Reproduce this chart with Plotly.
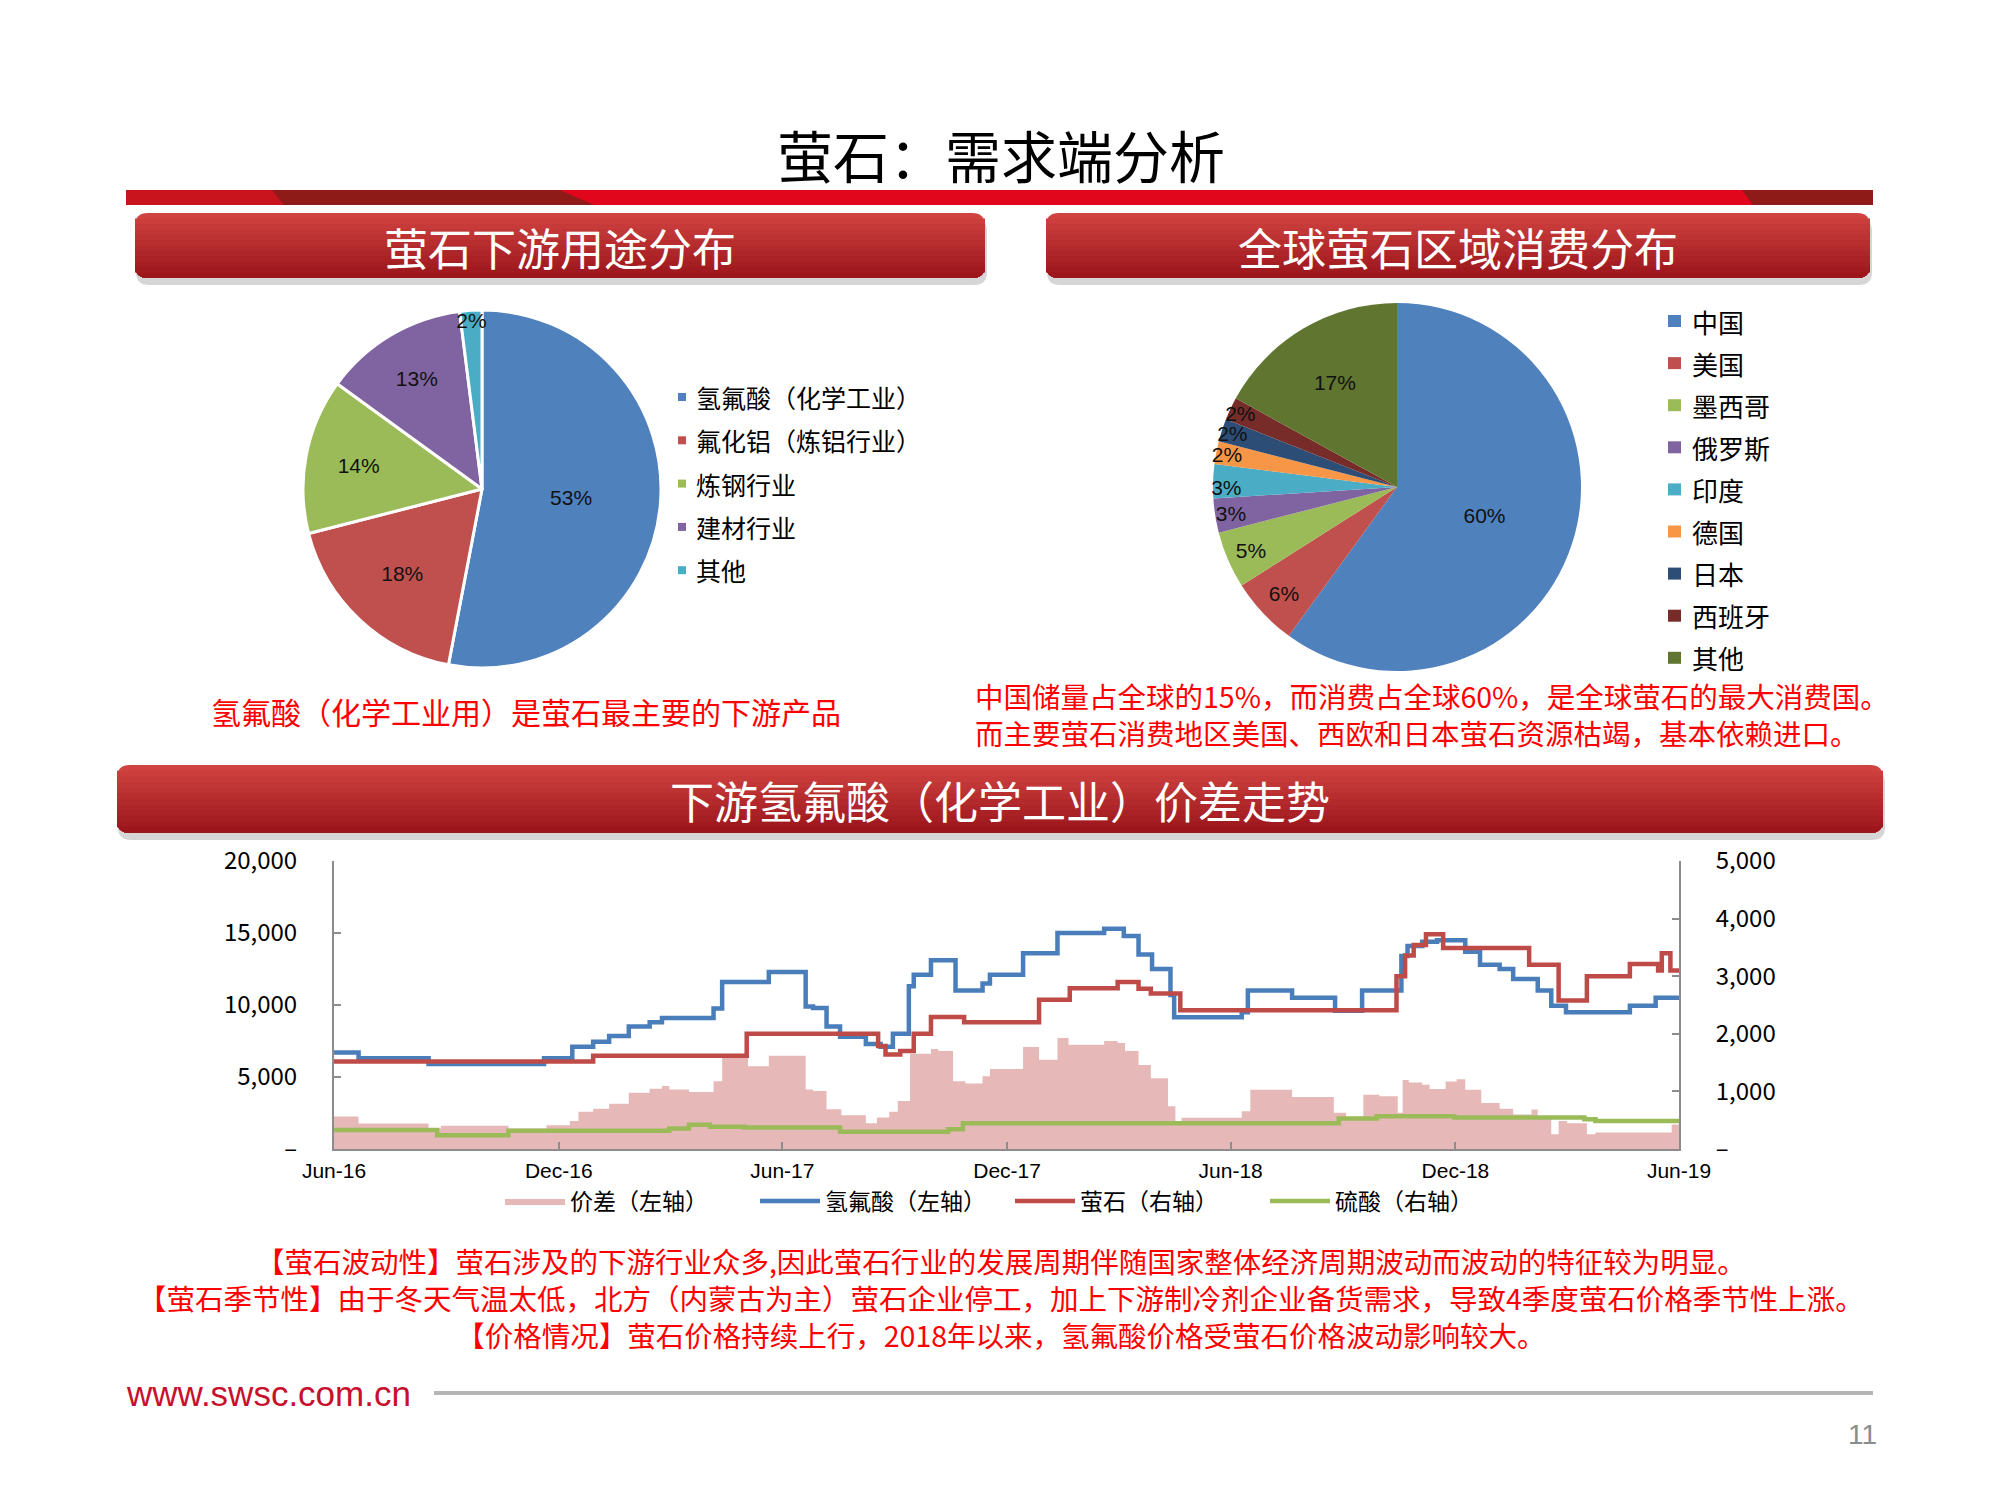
import plotly.graph_objects as go

W, H = 2000, 1500
OFF = 8  # page body margin compensation
CJK = "Noto Sans CJK SC"

# ---------------- data ----------------
use_labels = ["氢氟酸（化学工业）", "氟化铝（炼铝行业）", "炼钢行业", "建材行业", "其他"]
use_values = [53, 18, 14, 13, 2]
use_colors = ["#4F81BD", "#C0504D", "#9BBB59", "#8064A2", "#4BACC6"]

region_labels = ["中国", "美国", "墨西哥", "俄罗斯", "印度", "德国", "日本", "西班牙", "其他"]
region_values = [60, 6, 5, 3, 3, 2, 2, 2, 17]
region_colors = ["#4F81BD", "#C0504D", "#9BBB59", "#8064A2", "#4BACC6",
                 "#F79646", "#2C4D75", "#772C2A", "#5F7530"]

spread_dates = ["2016-06-01", "2016-06-21", "2016-08-17", "2016-08-27", "2016-10-21", "2016-11-21",
                "2016-12-10", "2016-12-17", "2016-12-29", "2017-01-11", "2017-01-27", "2017-02-13",
                "2017-02-23", "2017-03-01", "2017-03-17", "2017-04-06", "2017-04-13", "2017-05-04",
                "2017-05-21", "2017-06-20", "2017-06-26", "2017-07-07", "2017-07-19", "2017-08-08",
                "2017-08-17", "2017-08-27", "2017-09-03", "2017-09-13", "2017-09-30", "2017-10-06",
                "2017-10-18", "2017-10-28", "2017-11-11", "2017-11-17", "2017-12-14", "2017-12-27",
                "2018-01-11", "2018-01-20", "2018-02-18", "2018-03-01", "2018-03-07", "2018-03-18",
                "2018-03-28", "2018-04-11", "2018-04-17", "2018-04-22", "2018-06-10", "2018-06-17",
                "2018-07-21", "2018-08-24", "2018-09-03", "2018-09-17", "2018-09-30", "2018-10-15",
                "2018-10-19", "2018-10-24", "2018-11-04", "2018-11-10", "2018-11-23", "2018-12-02",
                "2018-12-09", "2018-12-22", "2019-01-06", "2019-01-17", "2019-02-01", "2019-02-06",
                "2019-02-17", "2019-02-23", "2019-03-02", "2019-03-18", "2019-03-25", "2019-05-26",
                "2019-06-01"]
spread_values = [2250, 1770, 1430, 1610, 1430, 1650,
                 1950, 2580, 2800, 3150, 3900, 4180,
                 4370, 4140, 3950, 4710, 6320, 5750,
                 6480, 4140, 4020, 2760, 2340, 1790,
                 2180, 2580, 3330, 6620, 6940, 6800,
                 4710, 4550, 5060, 5560, 7080, 6200,
                 7700, 7240, 7500, 7360, 6810, 5830,
                 4910, 2970, 1940, 2170, 2630, 4110,
                 3610, 2510, 2240, 3770, 3660, 2510,
                 4800, 4620, 4460, 4160, 4690, 4850,
                 4110, 3200, 2790, 2400, 2740, 2240,
                 1030, 1940, 1780, 1030, 1140, 1710,
                 1710]

hf_dates = ["2016-06-01", "2016-06-21", "2016-08-17", "2016-11-19", "2016-12-12", "2016-12-29",
            "2017-01-11", "2017-01-27", "2017-02-13", "2017-02-23", "2017-04-06", "2017-04-13",
            "2017-05-21", "2017-06-20", "2017-06-26", "2017-07-07", "2017-07-18", "2017-08-08",
            "2017-08-20", "2017-08-30", "2017-09-12", "2017-09-16", "2017-09-30", "2017-10-20",
            "2017-11-11", "2017-11-17", "2017-12-14", "2018-01-11", "2018-02-18", "2018-03-06",
            "2018-03-18", "2018-03-29", "2018-04-13", "2018-04-16", "2018-06-10", "2018-06-15",
            "2018-07-21", "2018-08-25", "2018-09-16", "2018-10-18", "2018-10-23", "2018-11-04",
            "2018-11-16", "2018-12-09", "2018-12-21", "2019-01-06", "2019-01-17", "2019-02-06",
            "2019-02-17", "2019-03-01", "2019-04-22", "2019-05-13", "2019-06-01"]
hf_values = [6700, 6300, 5900, 6300, 7100, 7450,
             7850, 8500, 8800, 9100, 9750, 11600,
             12300, 9900, 9800, 8500, 7800, 7300,
             7100, 8000, 11300, 12100, 13100, 11000,
             11500, 12100, 13600, 15000, 15300, 14800,
             13500, 12500, 10700, 9150, 9500, 11000,
             10500, 9600, 11000, 13400, 14100, 14400,
             14500, 13700, 12800, 12500, 11800, 11000,
             9950, 9500, 9950, 10500, 10500]

fluor_dates = ["2016-06-01", "2016-12-29", "2017-05-03", "2017-08-18", "2017-08-24", "2017-09-05",
               "2017-09-16", "2017-09-30", "2017-10-27", "2017-12-27", "2018-01-21", "2018-03-01",
               "2018-03-18", "2018-03-28", "2018-04-21", "2018-10-14", "2018-10-21", "2018-10-28",
               "2018-11-07", "2018-11-21", "2019-01-30", "2019-02-23", "2019-03-18", "2019-04-22",
               "2019-05-15", "2019-05-18", "2019-05-25", "2019-06-01"]
fluor_values = [1520, 1620, 2000, 1790, 1640, 1700,
                2000, 2290, 2200, 2590, 2790, 2900,
                2780, 2700, 2410, 3000, 3360, 3540,
                3730, 3490, 3200, 2580, 3000, 3210,
                3100, 3400, 3100, 3100]

sulf_dates = ["2016-06-01", "2016-08-24", "2016-10-21", "2017-03-01", "2017-03-17", "2017-04-03",
              "2017-05-01", "2017-07-18", "2017-10-14", "2017-10-26", "2018-08-28", "2018-09-28",
              "2018-11-30", "2019-03-16", "2019-03-25", "2019-06-01"]
sulf_values = [330, 240, 315, 355, 420, 385,
               375, 300, 345, 445, 530, 570,
               545, 515, 485, 485]

x_tick_dates = ["2016-06-01", "2016-12-01", "2017-06-01", "2017-12-01",
                "2018-06-01", "2018-12-01", "2019-06-01"]
left_ticks = [0, 5000, 10000, 15000, 20000]
left_ticktext = ["–", "5,000", "10,000", "15,000", "20,000"]
right_ticks = [0, 1000, 2000, 3000, 4000, 5000]
right_ticktext = ["–", "1,000", "2,000", "3,000", "4,000", "5,000"]

right_note_lines = ["中国储量占全球的15%，而消费占全球60%，是全球萤石的最大消费国。",
                    "而主要萤石消费地区美国、西欧和日本萤石资源枯竭，基本依赖进口。"]
bottom_note_lines = [
    "【萤石波动性】萤石涉及的下游行业众多,因此萤石行业的发展周期伴随国家整体经济周期波动而波动的特征较为明显。",
    "【萤石季节性】由于冬天气温太低，北方（内蒙古为主）萤石企业停工，加上下游制冷剂企业备货需求，导致4季度萤石价格季节性上涨。",
    "【价格情况】萤石价格持续上行，2018年以来，氢氟酸价格受萤石价格波动影响较大。",
]


# ---------------- helpers ----------------
def px(x):
    return (x - OFF) / W


def py(y):
    return 1 - (y - OFF) / H


annotations = []
shapes = []


def txt(s, x, y, size, color="black", xanchor="center", family=CJK, align="center"):
    annotations.append(dict(text=s, x=px(x), y=py(y), xref="paper", yref="paper",
                            showarrow=False, xanchor=xanchor, yanchor="middle", align=align,
                            font=dict(size=size, color=color, family=family)))


def rpath(x0, y0, x1, y1, rt, rb):
    pts = []
    pts.append("M%f,%f" % (px(x0), py(y0 + rt)))
    pts.append("Q%f,%f %f,%f" % (px(x0), py(y0), px(x0 + rt), py(y0)))
    pts.append("L%f,%f" % (px(x1 - rt), py(y0)))
    pts.append("Q%f,%f %f,%f" % (px(x1), py(y0), px(x1), py(y0 + rt)))
    pts.append("L%f,%f" % (px(x1), py(y1 - rb)))
    pts.append("Q%f,%f %f,%f" % (px(x1), py(y1), px(x1 - rb), py(y1)))
    pts.append("L%f,%f" % (px(x0 + rb), py(y1)))
    pts.append("Q%f,%f %f,%f" % (px(x0), py(y1), px(x0), py(y1 - rb)))
    pts.append("Z")
    return " ".join(pts)


def header(x0, y0, x1, y1, label, r=13, n=12):
    shapes.append(dict(type="path", xref="paper", yref="paper",
                       path=rpath(x0 + 1, y0 + 5, x1 + 2, y1 + 7, r, r),
                       fillcolor="rgba(0,0,0,0.16)", line=dict(width=0), layer="below"))
    top = (208, 66, 64)
    bot = (156, 22, 28)
    for i in range(n):
        t = i / (n - 1)
        c = tuple(int(top[k] + (bot[k] - top[k]) * t) for k in range(3))
        yy = y0 + (y1 - y0) * i / n
        shapes.append(dict(type="path", xref="paper", yref="paper",
                           path=rpath(x0, yy, x1, y1, r if i == 0 else 0, r),
                           fillcolor="rgb(%d,%d,%d)" % c, line=dict(width=0), layer="below"))
    txt(label, (x0 + x1) / 2, (y0 + y1) / 2 + 1, 44, "white")


def poly(points, color):
    d = "M" + " L".join("%f,%f" % (px(a), py(b)) for a, b in points) + " Z"
    shapes.append(dict(type="path", xref="paper", yref="paper", path=d,
                       fillcolor=color, line=dict(width=0), layer="below"))


# ---------------- title & band ----------------
txt("萤石：需求端分析", 1001, 153, 56, "black")
poly([(126, 190), (1873, 190), (1873, 205), (126, 205)], "#E1061C")
poly([(126, 190), (274, 190), (285, 205), (126, 205)], "#C9141E")
poly([(272, 190), (560, 190), (594, 205), (284, 205)], "#8E1B17")
poly([(1742, 190), (1873, 190), (1873, 205), (1753, 205)], "#8E1B17")

header(135, 213, 985, 278, "萤石下游用途分布")
header(1046, 213, 1870, 278, "全球萤石区域消费分布")
header(117, 765, 1883, 833, "下游氢氟酸（化学工业）价差走势")

# ---------------- pies ----------------
fig = go.Figure()
cx, cy, r = 482, 489, 179
fig.add_trace(go.Pie(labels=use_labels, values=use_values, sort=False, direction="clockwise",
                     rotation=0, marker=dict(colors=use_colors, line=dict(color="white", width=3)),
                     texttemplate="%{value}%", textposition="inside",
                     insidetextorientation="horizontal",
                     textfont=dict(size=21, color="#111", family="Liberation Sans"),
                     domain=dict(x=[px(cx - r), px(cx + r)], y=[py(cy + r), py(cy - r)]),
                     showlegend=False, hoverinfo="label+percent"))
cx2, cy2, r2 = 1397, 487, 184
fig.add_trace(go.Pie(labels=region_labels, values=region_values, sort=False, direction="clockwise",
                     rotation=0, marker=dict(colors=region_colors, line=dict(width=0)),
                     texttemplate="%{value}%", textposition="inside",
                     insidetextorientation="horizontal",
                     textfont=dict(size=21, color="#111", family="Liberation Sans"),
                     domain=dict(x=[px(cx2 - r2), px(cx2 + r2)], y=[py(cy2 + r2), py(cy2 - r2)]),
                     showlegend=False, hoverinfo="label+percent"))

# pie legends
for i, (lab, col) in enumerate(zip(use_labels, use_colors)):
    yy = 397 + i * 43.3
    shapes.append(dict(type="rect", xref="paper", yref="paper", x0=px(678), x1=px(686),
                       y0=py(yy + 4), y1=py(yy - 4), fillcolor=col, line=dict(width=0)))
    txt(lab, 694, yy, 25, "black", "left")
for i, (lab, col) in enumerate(zip(region_labels, region_colors)):
    yy = 321 + i * 42.1
    shapes.append(dict(type="rect", xref="paper", yref="paper", x0=px(1668), x1=px(1681),
                       y0=py(yy + 6), y1=py(yy - 6), fillcolor=col, line=dict(width=0)))
    txt(lab, 1690, yy, 26, "black", "left")

# red notes
RED = "#FF0000"
txt("氢氟酸（化学工业用）是萤石最主要的下游产品", 526, 711, 30, RED)
txt("<br>".join(right_note_lines), 973, 714, 28.5, RED, "left", align="left")

# ---------------- line chart ----------------
fig.add_trace(go.Scatter(x=spread_dates, y=spread_values, name="价差（左轴）", mode="lines",
                         line=dict(width=0, shape="hv", color="#E6B9B8"), fill="tozeroy",
                         fillcolor="#E6B9B8", legend="legend"))
fig.add_trace(go.Scatter(x=hf_dates, y=hf_values, name="氢氟酸（左轴）", mode="lines",
                         line=dict(width=4.5, shape="hv", color="#4A7EBB"), legend="legend"))
fig.add_trace(go.Scatter(x=fluor_dates, y=fluor_values, name="萤石（右轴）", mode="lines",
                         yaxis="y2", line=dict(width=4.5, shape="hv", color="#BE4B48"),
                         legend="legend"))
fig.add_trace(go.Scatter(x=sulf_dates, y=sulf_values, name="硫酸（右轴）", mode="lines",
                         yaxis="y2", line=dict(width=4.5, shape="hv", color="#9BBB59"),
                         legend="legend"))

# bottom notes
txt("<br>".join(bottom_note_lines), 1001, 1297, 28.5, RED, align="center")

# footer
txt("www.swsc.com.cn", 124, 1393, 35, "#C8102E", "left", "Liberation Sans Narrow, Liberation Sans")
shapes.append(dict(type="line", xref="paper", yref="paper", x0=px(434), x1=px(1873),
                   y0=py(1393), y1=py(1393), line=dict(color="#B5B5B5", width=4)))
txt("11", 1862, 1434, 28, "#8C8C8C", "center", "Liberation Sans Narrow, Liberation Sans")

axis_common = dict(showgrid=False, zeroline=False, showline=True, linecolor="#8C8C8C",
                   linewidth=2, ticks="inside", ticklen=7, tickcolor="#8C8C8C", tickwidth=2,
                   automargin=False)

fig.update_layout(
    width=W, height=H, autosize=False,
    margin=dict(l=0, r=0, t=0, b=0, pad=0, autoexpand=False),
    paper_bgcolor="white", plot_bgcolor="white",
    uniformtext=dict(minsize=21, mode="show"),
    xaxis=dict(type="date", range=["2016-06-01", "2019-06-01"], domain=[px(334), px(1679)],
               anchor="y", tickvals=x_tick_dates, tickformat="%b-%y",
               tickfont=dict(size=21, family="Liberation Sans Narrow, Liberation Sans", color="black"),
               ticklabelstandoff=2, **axis_common),
    yaxis=dict(range=[0, 20000], domain=[py(1149), py(861)], anchor="x",
               tickvals=left_ticks, ticktext=left_ticktext,
               tickfont=dict(size=24, family=CJK, color="black"), ticklabelstandoff=30,
               **axis_common),
    yaxis2=dict(range=[0, 5000], overlaying="y", side="right", anchor="x",
                tickvals=right_ticks, ticktext=right_ticktext,
                tickfont=dict(size=24, family=CJK, color="black"), ticklabelstandoff=30,
                **axis_common),
    legend=dict(orientation="h", x=px(500), xanchor="left", y=py(1201), yanchor="middle",
                font=dict(size=23, family=CJK, color="black"), itemwidth=60,
                entrywidth=180, entrywidthmode="pixels",
                bgcolor="rgba(0,0,0,0)", traceorder="normal"),
    annotations=annotations,
    shapes=shapes,
)

fig.write_html("out.html")
